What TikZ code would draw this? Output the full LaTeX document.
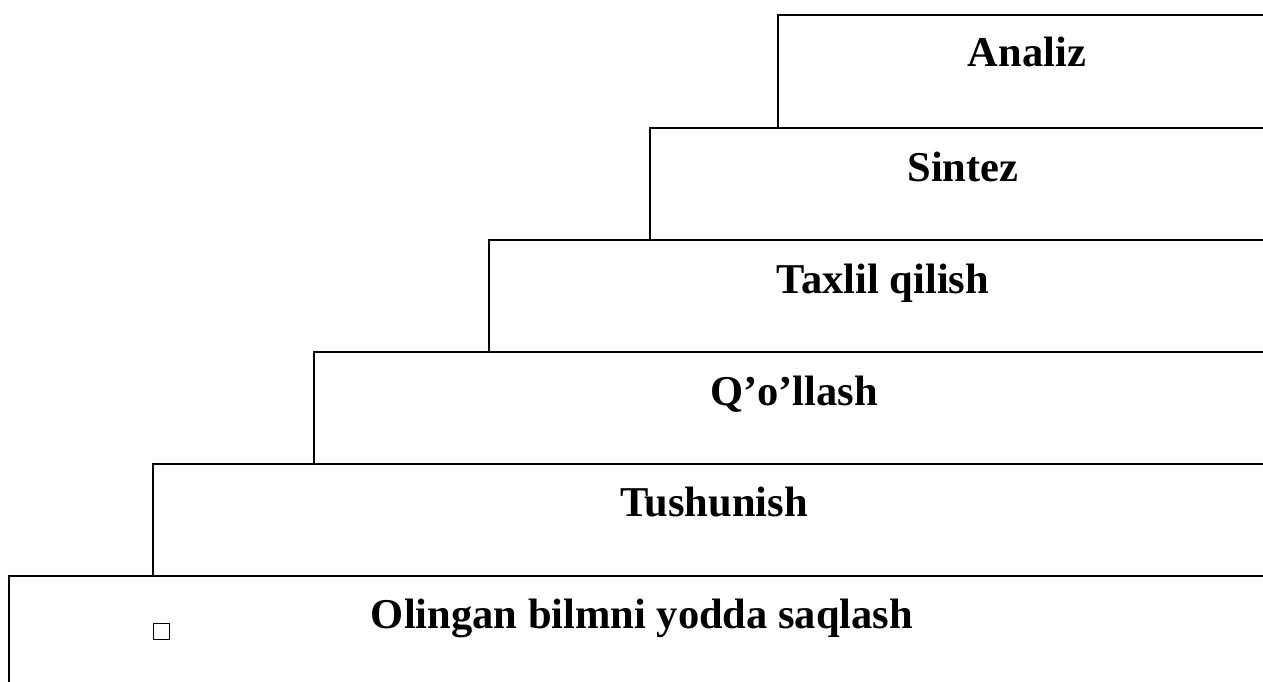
\documentclass[tikz,border=0pt]{standalone}
\usepackage{fontspec}
\setmainfont{Liberation Serif}
\begin{document}
\begin{tikzpicture}[x=1pt,y=-1pt,
  stepbox/.style={draw=black,line width=1.6pt},
  label/.style={anchor=base,inner sep=0pt,font=\fontsize{42.5}{48}\selectfont\bfseries},
  tick/.style={draw=black,line width=1.2pt}]
\useasboundingbox (0,0) rectangle (1263,682);
\clip (0,0) rectangle (1263,682);
\draw[stepbox] (778,15) rectangle (1276,128);
\draw[stepbox] (650,128) rectangle (1276,240);
\draw[stepbox] (489,240) rectangle (1276,352);
\draw[stepbox] (314,352) rectangle (1276,464);
\draw[stepbox] (153,464) rectangle (1276,576);
\draw[stepbox] (9,576) rectangle (1276,690);
\node[label] (t1) at (1027,67) {Analiz};
\node[label] (t2) at (963,181) {Sintez};
\node[label] (t3) at (883,293) {Taxlil qilish};
\node[label] (t4) at (794,405) {Q’o’llash};
\node[label] (t5) at (714,516) {Tushunish};
\node[label] (t6) at (642,628) {Olingan bilmni yodda saqlash};
\draw[tick] (153.5,623.5) rectangle (169.5,639.5);
\end{tikzpicture}
\end{document}
